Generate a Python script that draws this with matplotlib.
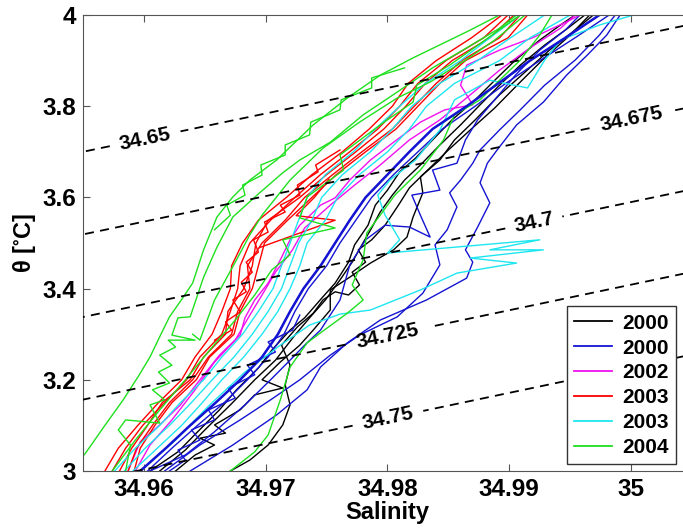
import numpy as np
import matplotlib
matplotlib.use("Agg")
import matplotlib.pyplot as plt

plt.rcParams['font.family'] = ['Liberation Sans', 'DejaVu Sans']
plt.rcParams['font.weight'] = 'bold'
plt.rcParams['mathtext.default'] = 'regular'

# shared temperature levels for the smoother bundles
t_levels = [3.00, 3.05, 3.10, 3.15, 3.20, 3.25, 3.30, 3.35, 3.40, 3.45, 3.50,
            3.55, 3.60, 3.65, 3.70, 3.75, 3.80, 3.85, 3.90, 3.95, 4.00]

# 2000 (black)
k1_s = [34.9613, 34.9634, 34.9650, 34.9671, 34.9691, 34.9708, 34.9724, 34.9738, 34.9749, 34.9761,
        34.9771, 34.9779, 34.9787, 34.9794, 34.9804, 34.9814, 34.9827, 34.9843, 34.9860, 34.9876,
        34.9892, 34.9909, 34.9929, 34.9948, 34.9962]
k1_t = [3.000, 3.046, 3.090, 3.145, 3.200, 3.243, 3.298, 3.342, 3.375, 3.419,
        3.458, 3.496, 3.533, 3.568, 3.605, 3.638, 3.671, 3.715, 3.759, 3.803,
        3.846, 3.890, 3.934, 3.971, 4.000]
k2_s = [34.9605, 34.9628, 34.9643, 34.9662, 34.9676, 34.9694, 34.9705, 34.9720, 34.9732, 34.9746,
        34.9757, 34.9768, 34.9773, 34.9784, 34.9790, 34.9800, 34.9810, 34.9823, 34.9837, 34.9853,
        34.9872, 34.9890, 34.9905, 34.9925, 34.9942, 34.9954]
k2_t = [3.000, 3.042, 3.083, 3.134, 3.178, 3.226, 3.265, 3.309, 3.336, 3.379,
        3.412, 3.458, 3.496, 3.539, 3.583, 3.616, 3.656, 3.686, 3.726, 3.770,
        3.814, 3.862, 3.901, 3.945, 3.978, 4.000]
k3_s = [34.9626, 34.9642, 34.9658, 34.9646, 34.9667, 34.9658, 34.9679, 34.9691, 34.9714, 34.9697,
        34.9712, 34.9728, 34.9739, 34.9753, 34.9753, 34.9769, 34.9786, 34.9805, 34.9816, 34.9821,
        34.9829, 34.9827, 34.9843, 34.9855, 34.9872, 34.9892, 34.9913, 34.9933, 34.9954, 34.9969]
k3_t = [3.000, 3.035, 3.057, 3.072, 3.083, 3.101, 3.134, 3.167, 3.182, 3.200,
        3.239, 3.276, 3.309, 3.353, 3.397, 3.425, 3.456, 3.485, 3.513, 3.557,
        3.610, 3.645, 3.682, 3.726, 3.770, 3.825, 3.875, 3.923, 3.967, 4.000]
k4_s = [34.9671, 34.9687, 34.9702, 34.9714, 34.9720, 34.9716, 34.9720, 34.9713, 34.9726, 34.9739,
        34.9747, 34.9757, 34.9768, 34.9777, 34.9771, 34.9782, 34.9776, 34.9787, 34.9798, 34.9809,
        34.9818, 34.9833, 34.9850, 34.9868, 34.9888, 34.9909, 34.9929, 34.9950, 34.9966]
k4_t = [3.000, 3.024, 3.057, 3.101, 3.145, 3.189, 3.232, 3.276, 3.316, 3.346,
        3.375, 3.393, 3.386, 3.408, 3.436, 3.458, 3.485, 3.507, 3.539, 3.583,
        3.621, 3.660, 3.704, 3.748, 3.796, 3.853, 3.906, 3.956, 4.000]

# 2000 (blue)
b1_s = [34.9597, 34.9618, 34.9638, 34.9659, 34.9679, 34.9697, 34.9710, 34.9720, 34.9731, 34.9745,
        34.9757, 34.9769, 34.9782, 34.9800, 34.9818, 34.9837, 34.9865, 34.9891, 34.9917, 34.9946, 34.9974]
b2_s = [34.9603, 34.9623, 34.9644, 34.9666, 34.9685, 34.9702, 34.9715, 34.9724, 34.9735, 34.9750,
        34.9761, 34.9774, 34.9787, 34.9805, 34.9825, 34.9845, 34.9872, 34.9897, 34.9925, 34.9954, 34.9982]
b3_s = [34.9638, 34.9673, 34.9709, 34.9734, 34.9745, 34.9767, 34.9794, 34.9832, 34.9865, 34.9870,
        34.9864, 34.9874, 34.9884, 34.9876, 34.9882, 34.9890, 34.9906, 34.9928, 34.9947, 34.9964,
        34.9980, 34.9991]
b3_t = [3.000, 3.057, 3.123, 3.178, 3.228, 3.281, 3.331, 3.375, 3.423, 3.458,
        3.485, 3.535, 3.588, 3.632, 3.675, 3.704, 3.759, 3.809, 3.868, 3.912,
        3.956, 4.000]
b4_s = [34.9617, 34.9646, 34.9679, 34.9704, 34.9728, 34.9753, 34.9777, 34.9808, 34.9829, 34.9843,
        34.9839, 34.9849, 34.9857, 34.9851, 34.9860, 34.9870, 34.9876, 34.9892, 34.9909, 34.9929,
        34.9954, 34.9974, 34.9987]
b4_t = [3.000, 3.057, 3.112, 3.156, 3.200, 3.254, 3.298, 3.338, 3.390, 3.452,
        3.496, 3.529, 3.579, 3.610, 3.638, 3.675, 3.704, 3.748, 3.792, 3.846,
        3.901, 3.956, 4.000]
b5_s = [34.9605, 34.9634, 34.9658, 34.9683, 34.9704, 34.9720, 34.9732, 34.9745, 34.9761, 34.9769,
        34.9782, 34.9798, 34.9818, 34.9835, 34.9827, 34.9820, 34.9843, 34.9837, 34.9857, 34.9864,
        34.9874, 34.9888, 34.9905, 34.9925, 34.9946, 34.9958]
b5_t = [3.000, 3.035, 3.086, 3.145, 3.200, 3.243, 3.276, 3.309, 3.375, 3.452,
        3.507, 3.539, 3.535, 3.513, 3.561, 3.605, 3.616, 3.660, 3.675, 3.726,
        3.770, 3.814, 3.868, 3.923, 3.967, 4.000]
b6_s = [34.9621, 34.9634, 34.9628, 34.9646, 34.9639, 34.9658, 34.9653, 34.9675, 34.9669, 34.9691,
        34.9685, 34.9708, 34.9702, 34.9722, 34.9728]
b6_t = [3.000, 3.024, 3.046, 3.068, 3.090, 3.112, 3.134, 3.160, 3.182, 3.211,
        3.232, 3.261, 3.283, 3.309, 3.342]

# 2002 (magenta)
m1_s = [34.9587, 34.9597, 34.9613, 34.9630, 34.9646, 34.9662, 34.9679, 34.9683, 34.9691, 34.9702,
        34.9712, 34.9720, 34.9728, 34.9745, 34.9757, 34.9769, 34.9786, 34.9805, 34.9827, 34.9847,
        34.9870, 34.9860, 34.9865, 34.9892, 34.9919, 34.9947, 34.9958]
m1_t = [3.000, 3.064, 3.101, 3.145, 3.200, 3.254, 3.298, 3.336, 3.375, 3.412,
        3.463, 3.507, 3.539, 3.583, 3.599, 3.638, 3.682, 3.721, 3.765, 3.792,
        3.803, 3.846, 3.890, 3.923, 3.950, 3.985, 4.000]
m2_s = [34.9593, 34.9605, 34.9623, 34.9642, 34.9658, 34.9675, 34.9687, 34.9697, 34.9708, 34.9722,
        34.9732, 34.9753, 34.9773, 34.9794, 34.9818, 34.9843, 34.9868, 34.9892, 34.9917, 34.9942, 34.9954]
m2_t = [3.000, 3.057, 3.112, 3.178, 3.239, 3.287, 3.342, 3.386, 3.436, 3.485,
        3.533, 3.583, 3.627, 3.671, 3.726, 3.770, 3.825, 3.879, 3.928, 3.971, 4.000]

# 2003 (red), on t_levels
r1_s = [34.9568, 34.9579, 34.9595, 34.9612, 34.9631, 34.9642, 34.9656, 34.9664, 34.9671, 34.9672,
        34.9681, 34.9694, 34.9717, 34.9738, 34.9763, 34.9785, 34.9804, 34.9817, 34.9840, 34.9869, 34.9894]
r2_s = [34.9574, 34.9585, 34.9599, 34.9617, 34.9635, 34.9646, 34.9664, 34.9671, 34.9677, 34.9679,
        34.9687, 34.9704, 34.9724, 34.9745, 34.9769, 34.9792, 34.9810, 34.9825, 34.9848, 34.9879, 34.9899]
r3_s = [34.9580, 34.9590, 34.9603, 34.9615, 34.9638, 34.9649, 34.9667, 34.9669, 34.9682, 34.9689,
        34.9692, 34.9702, 34.9728, 34.9750, 34.9774, 34.9797, 34.9815, 34.9831, 34.9853, 34.9884, 34.9904]
r4_s = [34.9587, 34.9594, 34.9607, 34.9621, 34.9640, 34.9653, 34.9672, 34.9677, 34.9687, 34.9685,
        34.9697, 34.9716, 34.9732, 34.9755, 34.9779, 34.9804, 34.9822, 34.9840, 34.9861, 34.9892, 34.9909]
r5_s = [34.9592, 34.9597, 34.9609, 34.9623, 34.9643, 34.9654, 34.9674, 34.9679, 34.9689, 34.9694,
        34.9699, 34.9718, 34.9738, 34.9758, 34.9782, 34.9807, 34.9825, 34.9843, 34.9864, 34.9899, 34.9915]
r6_s = [34.9695, 34.9757, 34.9725, 34.9740, 34.9752]
r6_t = [3.490, 3.550, 3.560, 3.600, 3.640]
r7_s = [34.9658, 34.9672, 34.9667, 34.9679, 34.9673, 34.9684, 34.9680, 34.9689, 34.9684, 34.9694,
        34.9690, 34.9702, 34.9699, 34.9716, 34.9712, 34.9728, 34.9726, 34.9743, 34.9741, 34.9761]
r7_t = [3.287, 3.309, 3.327, 3.349, 3.375, 3.393, 3.414, 3.436, 3.458, 3.480,
        3.507, 3.524, 3.546, 3.568, 3.583, 3.605, 3.627, 3.656, 3.671, 3.704]

# 2003 (cyan)
c1_s = [34.9576, 34.9593, 34.9613, 34.9630, 34.9649, 34.9664, 34.9681, 34.9694, 34.9706, 34.9713,
        34.9720, 34.9727, 34.9734, 34.9749, 34.9772, 34.9790, 34.9810, 34.9831, 34.9860, 34.9884, 34.9909]
c2_s = [34.9584, 34.9601, 34.9621, 34.9639, 34.9656, 34.9674, 34.9689, 34.9702, 34.9713, 34.9720,
        34.9727, 34.9738, 34.9746, 34.9763, 34.9786, 34.9804, 34.9820, 34.9843, 34.9874, 34.9901, 34.9929]
c3_s = [34.9591, 34.9611, 34.9631, 34.9648, 34.9664, 34.9682, 34.9697, 34.9710, 34.9720, 34.9728,
        34.9734, 34.9749, 34.9759, 34.9777, 34.9800, 34.9818, 34.9832, 34.9855, 34.9892, 34.9917, 34.9950]
c4_s = [34.9597, 34.9626, 34.9654, 34.9683, 34.9712, 34.9736, 34.9761, 34.9786, 34.9827, 34.9857,
        34.9906, 34.9868, 34.9928, 34.9884, 34.9925, 34.9800, 34.9810, 34.9798, 34.9792, 34.9802,
        34.9823, 34.9843, 34.9855, 34.9884, 34.9915, 34.9929, 34.9942, 34.9974, 35.0002]
c4_t = [3.000, 3.068, 3.145, 3.217, 3.276, 3.320, 3.344, 3.353, 3.397, 3.434,
        3.456, 3.467, 3.485, 3.485, 3.507, 3.478, 3.507, 3.561, 3.605, 3.638,
        3.682, 3.748, 3.814, 3.857, 3.840, 3.901, 3.945, 3.978, 4.000]

# 2004 (green)
g1_s = [34.9546, 34.9552, 34.9568, 34.9583, 34.9596, 34.9605, 34.9614, 34.9621, 34.9632, 34.9640,
        34.9649, 34.9660, 34.9673, 34.9687, 34.9709, 34.9739, 34.9767, 34.9794, 34.9821, 34.9865, 34.9892]
g1_t = [3.020, 3.039, 3.100, 3.156, 3.210, 3.250, 3.300, 3.338, 3.380, 3.412,
        3.485, 3.557, 3.601, 3.638, 3.682, 3.759, 3.818, 3.868, 3.906, 3.963, 4.000]
g2_s = [34.9585, 34.9589, 34.9579, 34.9585, 34.9613, 34.9605, 34.9617, 34.9607, 34.9621, 34.9612,
        34.9623, 34.9613, 34.9626, 34.9620, 34.9642, 34.9623, 34.9628, 34.9638, 34.9649, 34.9660,
        34.9673, 34.9695, 34.9714, 34.9728, 34.9753, 34.9780, 34.9808, 34.9837, 34.9865, 34.9892, 34.9906]
g2_t = [3.000, 3.057, 3.090, 3.112, 3.105, 3.145, 3.156, 3.178, 3.193, 3.217,
        3.232, 3.254, 3.272, 3.287, 3.287, 3.298, 3.336, 3.338, 3.425, 3.491,
        3.557, 3.610, 3.654, 3.682, 3.721, 3.781, 3.831, 3.884, 3.928, 3.971, 4.000]
g3_s = [34.9574, 34.9593, 34.9613, 34.9634, 34.9654, 34.9675, 34.9691, 34.9705, 34.9720, 34.9714,
        34.9757, 34.9728, 34.9734, 34.9764, 34.9761, 34.9794, 34.9821, 34.9824, 34.9851, 34.9878,
        34.9901, 34.9909]
g3_t = [3.000, 3.068, 3.134, 3.200, 3.265, 3.331, 3.386, 3.441, 3.474, 3.507,
        3.533, 3.555, 3.601, 3.660, 3.693, 3.759, 3.809, 3.846, 3.890, 3.941,
        3.985, 4.000]
g4_s = [34.9671, 34.9691, 34.9702, 34.9712, 34.9720, 34.9734, 34.9745, 34.9767, 34.9780, 34.9771,
        34.9780, 34.9783, 34.9794, 34.9806, 34.9827, 34.9846, 34.9855, 34.9876, 34.9892, 34.9909,
        34.9925, 34.9935]
g4_t = [3.000, 3.042, 3.079, 3.156, 3.228, 3.281, 3.303, 3.346, 3.375, 3.408,
        3.463, 3.522, 3.561, 3.605, 3.660, 3.726, 3.781, 3.814, 3.857, 3.901,
        3.956, 4.000]
g5_s = [34.9640, 34.9646, 34.9658, 34.9675, 34.9687, 34.9697, 34.9720, 34.9747, 34.9777, 34.9808,
        34.9835, 34.9864, 34.9888, 34.9913]
g5_t = [3.300, 3.287, 3.375, 3.458, 3.518, 3.561, 3.638, 3.708, 3.765, 3.818,
        3.853, 3.901, 3.945, 4.000]
g6_s = [34.9658, 34.9671, 34.9668, 34.9683, 34.9681, 34.9697, 34.9696, 34.9716, 34.9716, 34.9736,
        34.9737, 34.9761, 34.9762, 34.9787, 34.9787, 34.9814]
g6_t = [3.529, 3.561, 3.583, 3.605, 3.627, 3.649, 3.671, 3.693, 3.715, 3.737,
        3.765, 3.792, 3.814, 3.840, 3.862, 3.884]

# isopycnal levels and a linear equation of state fitted to the drawn lines
sigma_levels = [34.65, 34.675, 34.70, 34.725, 34.75]
label_pos = [(34.9601, 3.729), (34.9999, 3.79), (34.9915, 3.61), (34.9800, 3.30), (34.9800, 3.12)]

groups = [
    ('#000000', '2000', [(k1_s, k1_t), (k2_s, k2_t), (k3_s, k3_t), (k4_s, k4_t)]),
    ('#1414d2', '2000', [(b1_s, t_levels), (b2_s, t_levels), (b3_s, b3_t), (b4_s, b4_t),
                         (b5_s, b5_t), (b6_s, b6_t)]),
    ('#f010f0', '2002', [(m1_s, m1_t), (m2_s, m2_t)]),
    ('#ff0000', '2003', [(r1_s, t_levels), (r2_s, t_levels), (r3_s, t_levels),
                         (r4_s, t_levels), (r5_s, t_levels), (r6_s, r6_t), (r7_s, r7_t)]),
    ('#1ee6f0', '2003', [(c1_s, t_levels), (c2_s, t_levels), (c3_s, t_levels), (c4_s, c4_t)]),
    ('#1ee01e', '2004', [(g1_s, g1_t), (g2_s, g2_t), (g3_s, g3_t), (g4_s, g4_t), (g5_s, g5_t),
                         (g6_s, g6_t)]),
]

fig = plt.figure(figsize=(6.83, 5.29), dpi=100)
ax = fig.add_axes([83 / 683, 58 / 529, 609 / 683, 456 / 529])

for color, label, profiles in groups:
    for i, (s, t) in enumerate(profiles):
        ax.plot(s, t, color=color, lw=1.0, label=label if i == 0 else None, zorder=2)

# the dense blue core is drawn a bit heavier
ax.plot(b1_s, t_levels, color='#1414d2', lw=1.8, zorder=2)

# density contours
S, T = np.meshgrid(np.linspace(34.95, 35.01, 200), np.linspace(2.9, 4.1, 200))
rho = 34.65 + 0.773 * (S - 34.955) - 0.138 * (T - 3.70)
cs = ax.contour(S, T, rho, levels=sigma_levels, colors='k', linewidths=1.3,
                linestyles=[(0, (5, 3.5))], zorder=3)
labels = ax.clabel(cs, fmt='%g', fontsize=15, manual=label_pos, inline_spacing=4)
for txt in labels:
    txt.set_fontweight('bold')

ax.set_xlim(34.955, 35.005)
ax.set_ylim(3, 4)
ax.set_xticks([34.96, 34.97, 34.98, 34.99, 35.0])
ax.set_xticklabels(['34.96', '34.97', '34.98', '34.99', '35'])
ax.set_yticks([3, 3.2, 3.4, 3.6, 3.8, 4])
ax.set_yticklabels(['3', '3.2', '3.4', '3.6', '3.8', '4'])
ax.tick_params(direction='in', top=True, right=True, length=5, labelsize=17.5, pad=5, color='#555555')
for sp in ax.spines.values():
    sp.set_color('#555555')
ax.set_xlabel('Salinity', fontsize=17, fontweight='bold', labelpad=0)
ax.set_ylabel(r'θ [$^{\circ}$C]', fontsize=17, fontweight='bold', labelpad=3)

leg = ax.legend(loc='lower left', bbox_to_anchor=(0.795, 0.015), fontsize=15,
                frameon=True, fancybox=False, framealpha=1, edgecolor='#333333',
                handlelength=1.8, handletextpad=0.5, labelspacing=0.28, borderpad=0.35,
                borderaxespad=0)
leg.get_frame().set_linewidth(1.0)
for line in leg.get_lines():
    line.set_linewidth(1.3)

fig.savefig('out.png', dpi=100)
